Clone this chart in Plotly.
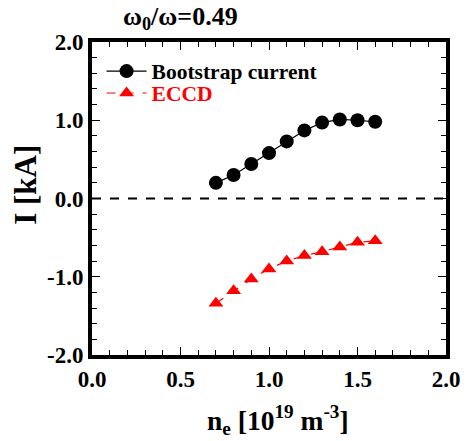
import plotly.graph_objects as go

ne = [0.7, 0.8, 0.9, 1.0, 1.1, 1.2, 1.3, 1.4, 1.5, 1.6]
bootstrap = [0.20, 0.30, 0.44, 0.58, 0.73, 0.87, 0.97, 1.01, 1.00, 0.98]
eccd = [-1.34, -1.18, -1.03, -0.90, -0.80, -0.73, -0.68, -0.62, -0.56, -0.54]

FONT = "Liberation Serif, Times New Roman, serif"

fig = go.Figure()
fig.add_trace(go.Scatter(
    x=ne, y=bootstrap, mode="lines+markers", name="<b>Bootstrap current</b>",
    line=dict(color="black", width=1.2),
    marker=dict(symbol="circle", size=14, color="black"),
    legend="legend",
))
fig.add_trace(go.Scatter(
    x=ne, y=eccd, mode="lines+markers",
    name="<b><span style='color:red'>ECCD</span></b>",
    line=dict(color="red", width=1.2, dash="dash"),
    marker=dict(symbol="triangle-up", size=13, color="red"),
    legend="legend2",
))

fig.add_shape(type="line", xref="paper", yref="y", x0=0, x1=1, y0=0, y1=0,
              line=dict(color="black", width=1.8, dash="dash"))

fig.add_annotation(text="<b>ω<sub>0</sub>/ω=0.49</b>", xref="paper", yref="paper",
                   x=0.083, y=1.02, xanchor="left", yanchor="bottom", showarrow=False,
                   font=dict(family=FONT, size=26, color="black"))

fig.add_annotation(text="<b>I [kA]</b>", xref="paper", yref="paper",
                   x=-0.19, y=0.543, xanchor="center", yanchor="middle", showarrow=False,
                   textangle=-90, font=dict(family=FONT, size=31, color="black"))

fig.add_annotation(text="<b>n<sub>e</sub> [10<sup>19</sup> m<sup>-3</sup>]</b>",
                   xref="paper", yref="paper", x=0.525, y=-0.14,
                   xanchor="center", yanchor="top", showarrow=False,
                   font=dict(family=FONT, size=27.5, color="black"))

axis_common = dict(
    showline=True, linewidth=4, linecolor="black", mirror="allticks",
    ticks="inside", ticklen=8, tickwidth=1.2, tickcolor="black",
    showgrid=False, zeroline=False,
    tickfont=dict(family=FONT, size=23, color="black"),
)

xt = [0, 0.5, 1.0, 1.5, 2.0]
yt = [-2, -1, 0, 1, 2]

fig.update_xaxes(range=[0, 2.0], tickvals=xt, ticktext=[f"<b>{v:.1f}</b>" for v in xt],
                 minor=dict(dtick=0.1, ticks="inside", ticklen=5, tickcolor="black", tickwidth=1.2),
                 **axis_common)
fig.update_yaxes(range=[-2.0, 2.0], tickvals=yt, ticktext=[f"<b>{v:.1f}</b>" for v in yt],
                 minor=dict(dtick=0.2, ticks="inside", ticklen=5, tickcolor="black", tickwidth=1.2),
                 **axis_common)

legend_common = dict(xanchor="left", yanchor="middle", bgcolor="rgba(0,0,0,0)",
                     font=dict(family=FONT, size=21.5, color="black"), itemwidth=40,
                     borderwidth=0)

fig.update_layout(
    width=472, height=441,
    margin=dict(l=92, r=16, t=42, b=86),
    plot_bgcolor="white", paper_bgcolor="white",
    font=dict(family=FONT, color="black"),
    legend=dict(x=0.027, y=0.907, **legend_common),
    legend2=dict(x=0.027, y=0.837, **legend_common),
    showlegend=True,
)

fig.write_html("out.html")
